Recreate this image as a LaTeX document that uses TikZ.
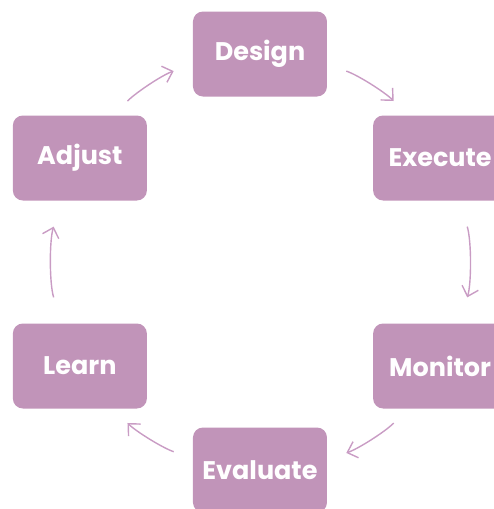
\documentclass[tikz,border=0pt]{standalone}
\usepackage{fontspec}
\setmainfont{Poppins}
\usetikzlibrary{arrows.meta}

\definecolor{stagefill}{HTML}{C194B9}
\definecolor{flowline}{HTML}{C99CC4}

\begin{document}
\begin{tikzpicture}[
  stage/.style={rectangle, rounded corners=0.2cm, fill=stagefill, draw=none,
    minimum width=2.68cm, minimum height=1.7cm, inner sep=0pt, text=white,
    font=\bfseries\fontsize{14.5}{16}\selectfont},
  flow/.style={-{Straight Barb[length=1.8mm, width=3.4mm]}, draw=flowline,
    line width=0.8pt, looseness=0.87, shorten <=0.4cm, shorten >=0.4cm},
  sideflow/.style={flow, shorten <=0.54cm, shorten >=0.54cm}]
  \useasboundingbox (-5.2,-4.94) rectangle (4.68,5.24);
  \clip (-5.2,-4.94) rectangle (4.68,5.24);

  %% stages
  \node[stage] (Design)   at (90:4.16)   {Design};
  \node[stage] (Execute)  at (30:4.16)   {Execute};
  \node[stage] (Monitor)  at (-30:4.16)  {Monitor};
  \node[stage] (Evaluate) at (-90:4.16)  {Evaluate};
  \node[stage] (Learn)    at (-150:4.16) {Learn};
  \node[stage] (Adjust)   at (150:4.16)  {Adjust};

  %% cycle arrows
  \draw[flow] (Design.-9.3) to[out=-18.7, in=135] (Execute.127.4);
  \draw[sideflow] (Execute.-66.3) to[out=-72.7, in=72.7] (Monitor.66.3);
  \draw[flow] (Monitor.-127.3) to[out=-134.8, in=18.7] (Evaluate.9.3);
  \draw[flow] (Evaluate.170.7) to[out=161.3, in=-45] (Learn.-52.6);
  \draw[sideflow] (Learn.113.7) to[out=107.3, in=-107.3] (Adjust.-113.7);
  \draw[flow] (Adjust.52.6) to[out=45, in=-161.3] (Design.189.3);

\end{tikzpicture}
\end{document}
